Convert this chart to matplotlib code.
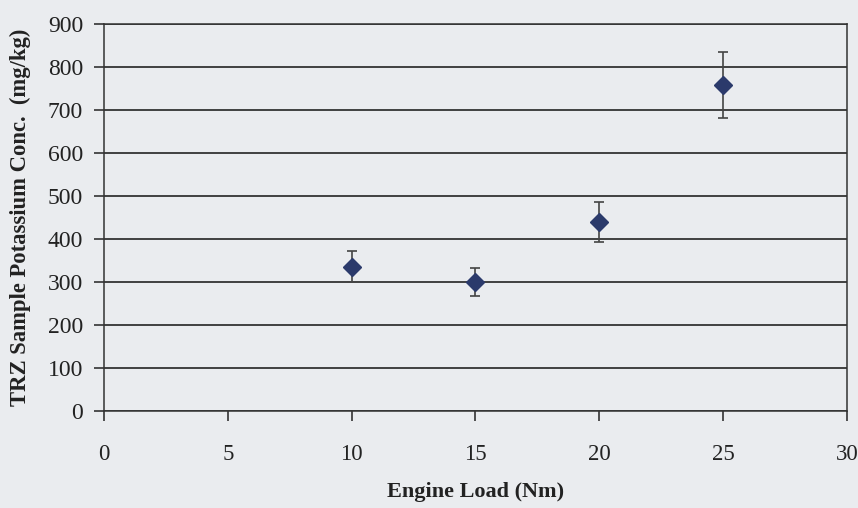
import matplotlib.pyplot as plt

# Potassium concentration at the top ring zone vs engine load
engine_load = [10, 15, 20, 25]
potassium_conc = [335, 300, 440, 758]
conc_error = [36, 32, 46, 77]

x_ticks = [0, 5, 10, 15, 20, 25, 30]
y_ticks = [0, 100, 200, 300, 400, 500, 600, 700, 800, 900]

paper = "#EAECEF"
ink = "#333333"

plt.rcParams["font.family"] = ["Liberation Serif", "DejaVu Serif"]

fig = plt.figure(figsize=(8.58, 5.08), dpi=100)
fig.patch.set_facecolor(paper)
ax = fig.add_axes([0.1212, 0.191, 0.8658, 0.7618])
ax.set_facecolor(paper)

ax.errorbar(engine_load, potassium_conc, yerr=conc_error,
            fmt="D", color="#2B3A6B", markersize=9,
            ecolor="#444444", elinewidth=1.2, capsize=3.5, capthick=1.2,
            zorder=3)

ax.set_xlim(0, 30)
ax.set_ylim(0, 900)
ax.set_xticks(x_ticks)
ax.set_yticks(y_ticks)
ax.yaxis.grid(True, color=ink, lw=1.3)

for side in ["left", "right", "top", "bottom"]:
    ax.spines[side].set_color(ink)
    ax.spines[side].set_linewidth(1.1)

ax.tick_params(axis="y", direction="out", length=7, width=1.2, color=ink,
               labelsize=17, pad=8, labelcolor="#222222")
ax.tick_params(axis="x", direction="out", length=7, width=1.2, color=ink,
               labelsize=16.5, pad=17, labelcolor="#222222")

ax.set_xlabel("Engine Load (Nm)", fontsize=16, fontweight="bold",
              color="#222222", labelpad=12)
ax.set_ylabel("TRZ Sample Potassium Conc.  (mg/kg)", fontsize=16.3,
              fontweight="bold", color="#222222", labelpad=12)

fig.savefig("out.png", dpi=100, facecolor=paper)
